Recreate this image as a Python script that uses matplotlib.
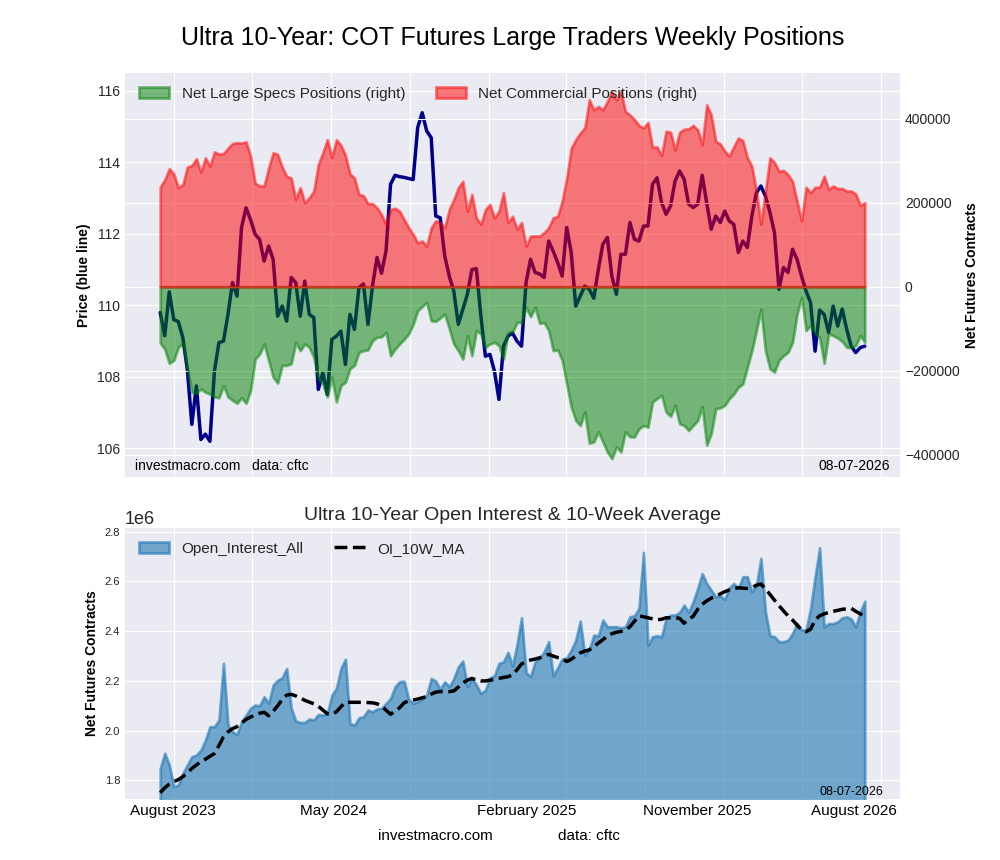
import numpy as np
import pandas as pd
import matplotlib
matplotlib.use('Agg')
import matplotlib.pyplot as plt
import matplotlib.dates as mdates
import matplotlib.ticker as mticker

plt.style.use('seaborn-v0_8-darkgrid')
plt.rcParams['font.family'] = ['Liberation Sans', 'DejaVu Sans']

# weekly values
price = [
    109.80, 109.15, 110.38, 109.60, 109.55, 109.10, 108.21, 106.67, 107.75, 106.25,
    106.40, 106.20, 108.16, 108.96, 109.00, 109.75, 110.64, 110.26, 112.18, 112.73,
    112.40, 111.99, 111.85, 111.24, 111.66, 111.29, 109.70, 109.98, 109.56, 110.78,
    110.64, 109.70, 110.68, 109.75, 109.66, 107.65, 108.12, 107.51, 109.05, 109.14,
    109.28, 108.35, 109.75, 109.33, 110.50, 110.60,
    109.47, 110.54, 111.34, 110.90, 111.53, 113.39, 113.64, 113.60, 113.58, 113.55,
    113.52, 114.97, 115.39, 114.88, 114.69, 112.50, 112.45, 111.38, 110.82, 110.40,
    109.47, 109.89, 110.31, 111.00, 111.03, 109.70, 108.58, 108.63, 108.16, 107.37,
    108.86, 109.14, 109.23, 109.00, 108.86, 110.64, 111.29, 110.92, 110.88, 110.78,
    111.80, 111.52, 111.20, 110.82, 112.18, 111.48, 109.98, 110.26, 110.54, 110.45,
    110.20, 111.00, 111.71, 111.90, 110.82, 110.31, 111.43, 111.43, 112.32,
    111.85, 111.80, 112.22, 112.22, 113.39, 113.57, 112.88, 112.55, 112.78, 113.48,
    113.76, 113.53, 112.83, 112.74, 112.83, 113.64, 112.87, 112.13, 112.50, 112.32,
    112.64, 112.36, 112.27, 111.48, 111.80, 111.62, 112.50, 113.15, 113.34, 113.06,
    112.60, 112.04, 110.45, 111.06, 110.92, 111.57, 111.29, 110.82, 110.40, 110.08,
    108.72, 109.87, 109.75, 109.24, 109.98, 109.42, 109.90, 109.33, 108.86, 108.68,
    108.82, 108.86,
]

# net positions, thousands of contracts
large_specs = [
    -134, -148, -182, -175, -144, -134, -195, -251, -253, -243,
    -251, -255, -262, -264, -235, -262, -270, -277, -264, -277,
    -247, -172, -160, -136, -175, -215, -229, -187, -187, -183,
    -132, -152, -136, -144, -168, -219, -231, -262, -215, -274,
    -235, -227, -195, -187, -156, -152, -150, -128, -120,
    -119, -108, -164, -148, -136, -125, -112, -89, -57, -47,
    -37, -81, -82, -74, -65, -100, -136, -152, -172, -116,
    -164, -104, -112, -144, -136, -132, -140, -172, -108, -108,
    -85, -85, -49, -71, -49, -87, -85, -104, -152, -150,
    -175, -231, -286, -318, -330, -298, -372, -369, -345, -369,
    -393, -409, -381, -393, -345, -357,
    -357, -338, -330, -334, -274, -266, -258, -298, -308, -282,
    -326, -330, -342, -330, -318, -285, -377, -349, -290, -288,
    -282, -266, -255, -239, -231, -191, -152, -104, -53, -152,
    -195, -203, -175, -164, -156, -132, -65, -25, -104, -92,
    -112, -120, -182, -112, -116, -122, -130, -144, -145, -140,
    -116, -132,
]

commercial = [
    237, 255, 281, 269, 236, 243, 285, 289, 305, 273,
    307, 287, 321, 316, 317, 330, 341, 343, 342, 345,
    311, 247, 240, 240, 283, 319, 315, 285, 263, 259,
    208, 236, 200, 212, 228, 291, 319, 350, 308, 350,
    337, 313, 269, 259, 220, 217, 198, 198, 188,
    172, 149, 184, 187, 180, 160, 141, 125, 105, 109,
    97, 141, 157, 153, 141, 184, 208, 236, 251, 180,
    220, 164, 149, 184, 196, 164, 180, 224, 153, 168,
    137, 153, 97, 121, 121, 121, 129, 141, 164, 168,
    204, 259, 330, 350, 366, 378, 445, 421, 429, 421,
    441, 465, 445, 465, 417, 409,
    398, 384, 378, 391, 332, 333, 313, 370, 368, 326,
    368, 375, 376, 384, 374, 338, 433, 409, 346, 340,
    323, 311, 334, 354, 348, 307, 287, 228, 149, 228,
    307, 296, 275, 277, 267, 251, 204, 157, 237, 224,
    237, 237, 263, 232, 240, 234, 234, 228, 228, 221,
    194, 200,
]

# open interest, thousands of contracts
open_interest = [
    1848, 1909, 1862, 1775, 1781, 1828, 1862, 1895, 1902, 1922,
    1962, 2016, 2016, 2043, 2271, 2022, 1996, 1985, 2036, 2063,
    2090, 2103, 2100, 2136, 2110, 2183, 2203, 2213, 2250, 2090,
    2039, 2033, 2033, 2047, 2043, 2065, 2063, 2069, 2143, 2170,
    2250, 2287, 2029, 2022, 2052, 2056, 2083, 2076, 2087, 2090,
    2110, 2130, 2177, 2197, 2199, 2127, 2110, 2116, 2127, 2143,
    2210, 2199, 2167, 2197, 2177, 2210, 2257, 2280, 2177, 2213,
    2183, 2150, 2163, 2213,
    2221, 2271, 2277, 2315, 2261, 2347, 2454, 2234, 2217, 2277,
    2291, 2317, 2358, 2221, 2253, 2288, 2293, 2324, 2364, 2441,
    2304, 2328, 2384, 2382, 2445, 2418, 2418, 2418, 2414, 2418,
    2458, 2462, 2492, 2717, 2344, 2378, 2382, 2378, 2451, 2465,
    2465, 2476, 2505, 2476, 2519, 2572, 2632, 2592, 2565, 2539,
    2543, 2529, 2575, 2592, 2572, 2619, 2619, 2559, 2583, 2693,
    2478, 2382, 2378, 2358, 2358, 2364, 2391, 2431, 2405, 2405,
    2492, 2619, 2736, 2418, 2431, 2431, 2438, 2454, 2458, 2449,
    2418, 2478, 2521,
]

oi_10w_ma = [
    1750, 1770, 1785, 1795, 1803, 1815, 1830, 1848, 1862, 1875,
    1885, 1897, 1908, 1940, 1975, 1995, 2008, 2016, 2030, 2045,
    2055, 2063, 2070, 2074, 2060, 2078, 2100, 2125, 2143, 2146,
    2140, 2132, 2122, 2115, 2108, 2098, 2083, 2068, 2066, 2076,
    2096, 2114, 2114, 2114, 2114, 2114, 2113, 2112, 2108, 2100,
    2082, 2066, 2078, 2092, 2112, 2120, 2123, 2127, 2132, 2137,
    2147, 2155, 2157, 2157, 2157, 2160, 2175, 2192, 2203, 2210,
    2204, 2200, 2200, 2203, 2206, 2210, 2214, 2217, 2224, 2245,
    2268, 2278, 2284, 2288, 2293, 2300, 2307, 2300, 2294, 2290,
    2278, 2287, 2300, 2313, 2320, 2325, 2338, 2352, 2366, 2380,
    2390, 2396, 2399, 2403, 2418, 2440, 2462, 2458, 2454, 2450,
    2446, 2448, 2454, 2454, 2454, 2452, 2432, 2448, 2460, 2488,
    2508, 2522, 2533, 2542, 2550, 2559, 2566, 2571, 2575, 2573,
    2572, 2575, 2585, 2590, 2570, 2548, 2525, 2503, 2482, 2462,
    2445, 2425, 2405, 2398, 2408, 2445, 2462, 2470, 2475, 2480,
    2484, 2488, 2490, 2492, 2480, 2470, 2462,
]

label_dates = ['2023-08-30', '2024-05-06', '2025-03-01', '2025-11-21', '2026-07-21']
label_names = ['August 2023', 'May 2024', 'February 2025', 'November 2025', 'August 2026']

dates = pd.date_range(start='2023-08-11', periods=len(price), freq='7D')
specs = np.array(large_specs) * 1000
comm = np.array(commercial) * 1000
oi = np.array(open_interest) * 1000
ma = np.array(oi_10w_ma) * 1000

fig = plt.figure(figsize=(10, 8.6), dpi=100)
ax1 = fig.add_axes([0.125, 0.4453, 0.775, 0.4698])
ax3 = fig.add_axes([0.125, 0.0709, 0.775, 0.3151])

# top panel
ax1.plot(dates, price, color='darkblue', lw=2.5)
ax1.set_ylim(105.2, 116.5)
ax1.set_ylabel('Price (blue line)', fontsize=10, fontweight='bold', color='black')
ax1.tick_params(axis='y', labelsize=10)

ax2 = ax1.twinx()
ax2.fill_between(dates, 0, specs, color='green', alpha=0.5, lw=2,
                 label='Net Large Specs Positions (right)')
ax2.fill_between(dates, 0, comm, color='red', alpha=0.5, lw=2,
                 label='Net Commercial Positions (right)')
ax2.set_ylabel('Net Futures Contracts', fontsize=10, fontweight='bold', color='black')
ax2.tick_params(axis='y', labelsize=10)
ax2.legend(loc='upper left', ncol=2, fontsize=11)

ax1.set_title('Ultra 10-Year: COT Futures Large Traders Weekly Positions',
              fontsize=18, pad=20, color='black')
ax1.text(0.013, 0.01, 'investmacro.com   data: cftc', transform=ax1.transAxes,
         fontsize=10, va='bottom', color='black')
ax1.text(0.987, 0.01, '08-07-2026', transform=ax1.transAxes,
         fontsize=10, va='bottom', ha='right', color='black')

# bottom panel
ax3.fill_between(dates, 0, oi, color='#1f77b4', alpha=0.6, lw=2,
                 label='Open_Interest_All')
ax3.plot(dates, ma, color='black', lw=2.5, ls='--', label='OI_10W_MA')
ax3.set_ylim(1.725e6, 2.815e6)
ax3.set_ylabel('Net Futures Contracts', fontsize=10, fontweight='bold', color='black')
ax3.tick_params(axis='y', labelsize=8)
ax3.yaxis.get_offset_text().set_fontsize(13)
ax3.legend(loc='upper left', ncol=2, fontsize=11)
ax3.set_title('Ultra 10-Year Open Interest & 10-Week Average', fontsize=14, pad=6)
ax3.text(0.979, 0.005, '08-07-2026', transform=ax3.transAxes,
         fontsize=9, va='bottom', ha='right', color='black')

# shared date grid, labels placed separately
span = dates[-1] - dates[0]
for ax in (ax1, ax3):
    ax.set_xlim(dates[0] - span * 0.05, dates[-1] + span * 0.05)
    ax.xaxis.set_major_locator(mdates.MonthLocator(bymonth=[1, 5, 9]))
    ax.xaxis.set_major_formatter(mticker.NullFormatter())
ax1.tick_params(axis='x', which='both', labelbottom=False)
ax3.xaxis.set_minor_locator(mticker.FixedLocator(mdates.datestr2num(label_dates)))
ax3.xaxis.set_minor_formatter(mticker.FixedFormatter(label_names))
ax3.tick_params(axis='x', which='minor', labelsize=11, length=0, labelcolor='black')

fig.text(0.435, 0.028, 'investmacro.com', ha='center', va='center', fontsize=11, color='black')
fig.text(0.589, 0.028, 'data: cftc', ha='center', va='center', fontsize=11, color='black')

fig.savefig('out.png', dpi=100)
